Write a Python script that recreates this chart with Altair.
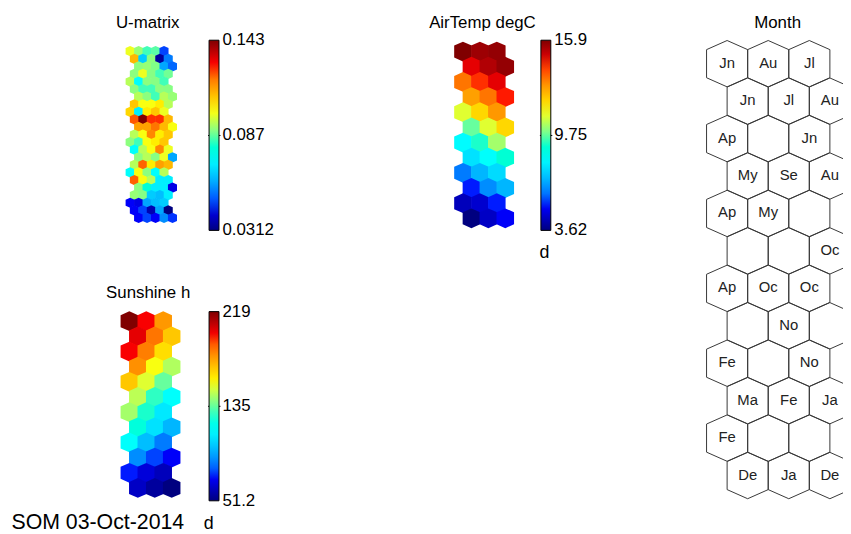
import altair as alt
import pandas as pd

# ---------------- data ----------------
# 12 x 3 hexagonal SOM, rows top->bottom, odd rows shifted right
air_temp = [
    [15.90, 15.53, 15.65],
    [14.67, 15.29, 15.65],
    [13.44, 14.18, 14.67],
    [12.83, 13.44, 14.30],
    [10.99, 11.97, 12.95],
    [9.76, 10.99, 11.97],
    [8.16, 9.15, 10.37],
    [7.67, 8.29, 9.02],
    [6.08, 6.94, 7.55],
    [5.22, 6.32, 6.94],
    [4.36, 4.60, 5.22],
    [3.62, 4.48, 5.09],
]

sunshine = [
    [219.0, 198.9, 178.7],
    [202.2, 185.5, 168.7],
    [198.9, 183.8, 163.6],
    [180.4, 155.2, 145.2],
    [168.7, 151.9, 135.1],
    [146.8, 128.4, 115.0],
    [143.5, 126.7, 108.3],
    [123.4, 106.6, 96.5],
    [115.0, 98.2, 84.8],
    [88.1, 76.4, 71.3],
    [73.0, 66.3, 61.3],
    [62.9, 56.2, 51.2],
]

# U-matrix: (2*12-1) x (2*3-1)
umatrix = [
    [0.0995, 0.0915, 0.0840, 0.0860, 0.0480],
    [0.1117, 0.0647, 0.0905, 0.0346, 0.0536],
    [0.0905, 0.0915, 0.0895, 0.0592, 0.0513],
    [0.0905, 0.0995, 0.0900, 0.0840, 0.0880],
    [0.0945, 0.0737, 0.0905, 0.0900, 0.0840],
    [0.0905, 0.0840, 0.0840, 0.0905, 0.0900],
    [0.0945, 0.0905, 0.0840, 0.0945, 0.0915],
    [0.1095, 0.1005, 0.1005, 0.1039, 0.0945],
    [0.1072, 0.0703, 0.1039, 0.1095, 0.0995],
    [0.1240, 0.1430, 0.1273, 0.1273, 0.1117],
    [0.1151, 0.1151, 0.1206, 0.1117, 0.1005],
    [0.0945, 0.1005, 0.1184, 0.1039, 0.1095],
    [0.0905, 0.0840, 0.1005, 0.1039, 0.1095],
    [0.0737, 0.0945, 0.1005, 0.1184, 0.0995],
    [0.0905, 0.0945, 0.0900, 0.0995, 0.0592],
    [0.0945, 0.1229, 0.1039, 0.1151, 0.1117],
    [0.0737, 0.1005, 0.0905, 0.0737, 0.0945],
    [0.1229, 0.1005, 0.0945, 0.0703, 0.0703],
    [0.0905, 0.0800, 0.0703, 0.0703, 0.0424],
    [0.0915, 0.0900, 0.0647, 0.0625, 0.0703],
    [0.0446, 0.0424, 0.0592, 0.0625, 0.0647],
    [0.0446, 0.0480, 0.0368, 0.0592, 0.0312],
    [0.0446, 0.0480, 0.0446, 0.0558, 0.0469],
]

month_labels = [
    ["Jn", "Au", "Jl"],
    ["Jn", "Jl", "Au"],
    ["Ap", "", "Jn"],
    ["My", "Se", "Au"],
    ["Ap", "My", ""],
    ["", "", "Oc"],
    ["Ap", "Oc", "Oc"],
    ["", "No", ""],
    ["Fe", "", "No"],
    ["Ma", "Fe", "Ja"],
    ["Fe", "", ""],
    ["De", "Ja", "De"],
]

umat_ticks = [0.0312, 0.087, 0.143]
air_ticks = [3.62, 9.75, 15.9]
sun_ticks = [51.2, 135, 219]

titles = ["U-matrix", "AirTemp degC", "Month", "Sunshine h"]
footer = "SOM 03-Oct-2014"
unit_label = "d"

# ---------------- layout / style ----------------
W, H = 843, 526
FONT = "Liberation Sans, Arial, Helvetica, sans-serif"
HEX = "M0,-1.128L1,-0.684L1,0.684L0,1.128L-1,0.684L-1,-0.684Z"
JET_POS = [0, 1 / 8, 3 / 8, 5 / 8, 7 / 8, 1]
JET = ["#000080", "#0000ff", "#00ffff", "#ffff00", "#ff0000", "#800000"]


def plane_df(values, offsets):
    recs = []
    for r, row in enumerate(values):
        for c, v in enumerate(row):
            recs.append({"row": r, "u": c + offsets[r % len(offsets)], "v": v})
    return pd.DataFrame(recs)


def xs(x0, w):
    return alt.Scale(domain=[-x0 / w, (W - x0) / w], nice=False, zero=False)


def ys(y0, s):
    return alt.Scale(domain=[-y0 / s, (H - y0) / s], nice=False, zero=False, reverse=True)


def hex_plane(values, offsets, x0, y0, w, s, ticks, lx, ly, glen):
    df = plane_df(values, offsets)
    vmin, vmax = float(df["v"].min()), float(df["v"].max())
    dom = [vmin + f * (vmax - vmin) for f in JET_POS]
    cells = alt.Chart(df).mark_point(
        shape=HEX, filled=True, opacity=1, size=(w + 0.6) ** 2, strokeWidth=0
    ).encode(
        x=alt.X("u:Q", scale=xs(x0, w), axis=None),
        y=alt.Y("row:Q", scale=ys(y0, s), axis=None),
        color=alt.Color(
            "v:Q",
            scale=alt.Scale(domain=dom, range=JET, type="linear"),
            legend=alt.Legend(
                orient="none", legendX=lx, legendY=ly, direction="vertical",
                gradientLength=glen, gradientThickness=10,
                gradientStrokeColor="black", gradientStrokeWidth=1,
                values=ticks, labelExpr="''", title=None, padding=0,
            ),
        ),
    )
    # colorbar tick labels placed through a value scale spanning the bar
    tdf = pd.DataFrame({"t": ticks})
    vscale = alt.Scale(domain=[vmin, vmax], range=[ly + glen, ly], nice=False, zero=False)
    labels = alt.Chart(tdf).mark_text(
        font=FONT, fontSize=17, color="black", align="left", baseline="middle"
    ).encode(
        y=alt.Y("t:Q", scale=vscale, axis=None),
        x=alt.value(lx + 13.5),
        text=alt.Text("t:Q", format=".3~g"),
    )
    mid = alt.Chart(tdf.iloc[[1]]).mark_rule(color="black", strokeWidth=1)
    tick_l = mid.encode(y=alt.Y("t:Q", scale=vscale, axis=None),
                        x=alt.value(lx - 1), x2=alt.value(lx + 2))
    tick_r = mid.encode(y=alt.Y("t:Q", scale=vscale, axis=None),
                        x=alt.value(lx + 8), x2=alt.value(lx + 11.5))
    return [cells, labels, tick_l, tick_r]


cw, cs = 17.1, 15.3          # component-plane hex width / row step
mw, ms = 41.5, 37.8          # month-plane hex width / row step

umat_layers = hex_plane(umatrix, [0, 0.5, 1, 0.5], 123.3, 41.1, cw / 2, cs / 2,
                        umat_ticks, 203, 30, 192)
air_layers = hex_plane(air_temp, [0, 0.5], 459.3, 41.5, cw, cs,
                       air_ticks, 538, 30, 192)
sun_layers = hex_plane(sunshine, [0, 0.5], 122.5, 313.7, cw, cs,
                       sun_ticks, 203, 304, 191)

mdf = pd.DataFrame([
    {"row": r, "u": c + 0.5 * (r % 2), "lab": lab}
    for r, row in enumerate(month_labels) for c, lab in enumerate(row)
])
mx, my = xs(726, mw), ys(53.7, ms)
month_hex = alt.Chart(mdf).mark_point(
    shape=HEX, filled=False, color="#383838", strokeWidth=1, opacity=1,
    size=mw ** 2, clip=True
).encode(x=alt.X("u:Q", scale=mx, axis=None), y=alt.Y("row:Q", scale=my, axis=None))
month_txt = alt.Chart(mdf).mark_text(
    font=FONT, fontSize=15, color="#222222", align="center", baseline="middle", dy=-1
).encode(x=alt.X("u:Q", scale=mx, axis=None), y=alt.Y("row:Q", scale=my, axis=None),
         text="lab:N")


def label(txt, x, y, size=17, align="center"):
    return alt.Chart().mark_text(
        font=FONT, fontSize=size, color="black", align=align, baseline="alphabetic"
    ).encode(x=alt.value(x), y=alt.value(y), text=alt.value(txt))


texts = [
    label(titles[0], 141, 17.5),
    label(titles[1], 479, 17.5),
    label(titles[2], 777, 17.5),
    label(titles[3], 141.5, 290),
    label(footer, 3.5, 523.5, size=21.5, align="left"),
    label(unit_label, 536.5, 250, size=18, align="left"),
    label(unit_label, 197.5, 523, size=18, align="left"),
]

chart = alt.layer(
    *umat_layers, *air_layers, *sun_layers, month_hex, month_txt, *texts
).resolve_scale(
    x="independent", y="independent", color="independent"
).properties(
    width=W, height=H, autosize=alt.AutoSizeParams(type="none"), padding=0
).configure_view(stroke=None)

chart.save("out.html", embed_options={"renderer": "svg", "actions": False})
